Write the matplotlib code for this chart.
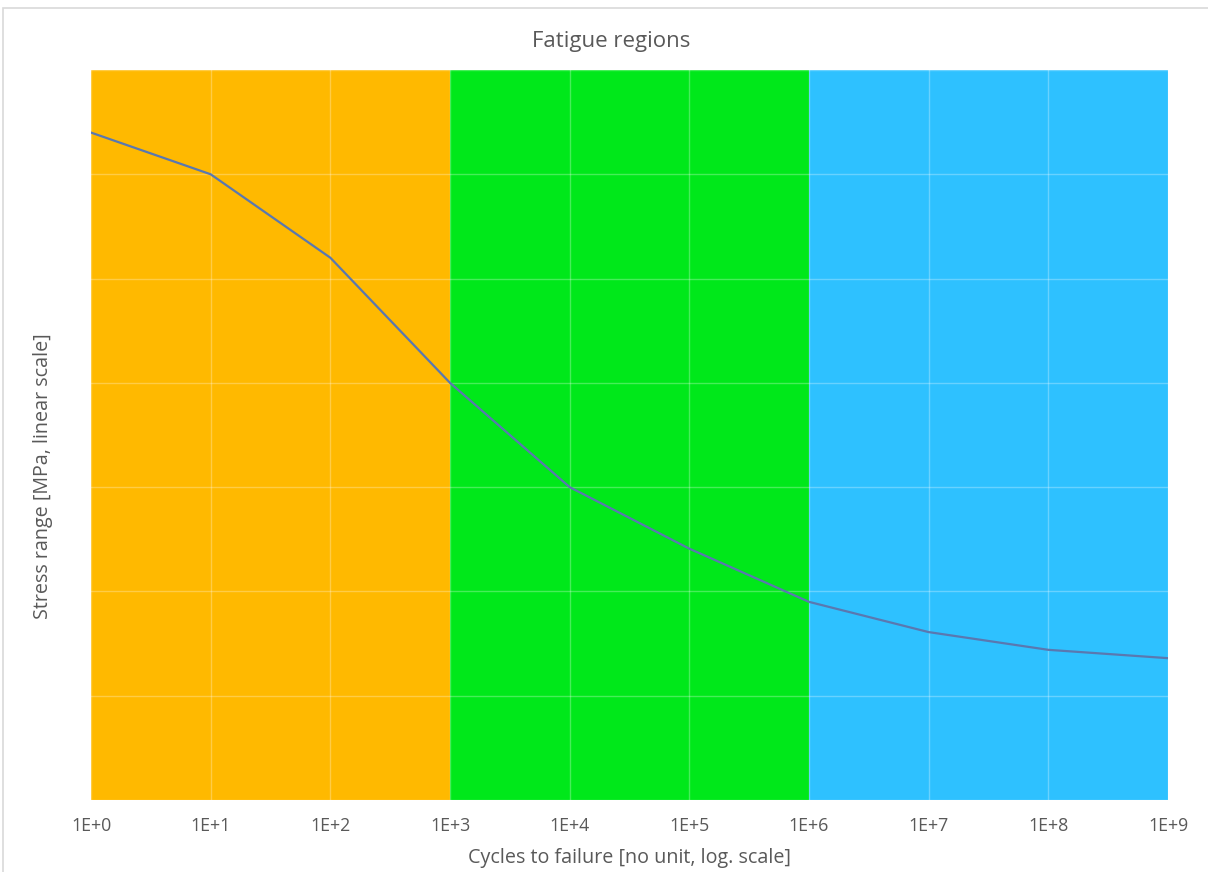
import matplotlib
matplotlib.use("Agg")
import matplotlib.pyplot as plt
from matplotlib.patches import Rectangle
from matplotlib.ticker import FixedLocator

# Data
region_edges = [1e0, 1e3, 1e6, 1e9]
region_colors = ["#FFB900", "#00E81A", "#2EC1FF"]
cycles = [1e0, 1e1, 1e2, 1e3, 1e4, 1e5, 1e6, 1e7, 1e8, 1e9]
stress = [6.40, 6.00, 5.20, 4.00, 3.00, 2.41, 1.90, 1.61, 1.44, 1.36]
x_ticks = [10.0 ** k for k in range(10)]
x_tick_labels = ["1E+%d" % k for k in range(10)]
y_max = 7

plt.rcParams['font.family'] = ['Open Sans', 'DejaVu Sans']
text_color = "#595959"

W, H = 1208, 872
fig = plt.figure(figsize=(W/100, H/100), dpi=100)
ax = fig.add_axes([91/W, 1 - 800/H, (1168-91)/W, (800-70)/H])

for i, c in enumerate(region_colors):
    ax.axvspan(region_edges[i], region_edges[i+1], color=c, lw=0, zorder=0.1)

ax.plot(cycles, stress, color="#5A78B0", lw=1.6, zorder=2, solid_joinstyle='round')

ax.set_xscale('log')
ax.set_xlim(region_edges[0], region_edges[-1])
ax.set_ylim(0, y_max)
ax.set_xticks(x_ticks)
ax.set_xticklabels(x_tick_labels)
ax.xaxis.set_minor_locator(FixedLocator([]))
ax.set_yticks(range(0, y_max + 1))
ax.set_yticklabels([])
ax.tick_params(axis='x', length=0, colors=text_color, labelsize=12.8, pad=12)
ax.tick_params(axis='y', length=0, pad=0)
ax.set_axisbelow(True)
ax.grid(True, color="white", alpha=0.28, lw=1.0)
for s in ax.spines.values():
    s.set_visible(False)

fig.text(611/W, 1 - 42/H, "Fatigue regions", color=text_color, fontsize=16,
         ha='center', va='center')
ax.set_xlabel("Cycles to failure [no unit, log. scale]", color=text_color, fontsize=14.2, va='center')
ax.xaxis.set_label_coords(0.5, (800 - 858) / 730)
ax.set_ylabel("Stress range [MPa, linear scale]", color=text_color, fontsize=14.2, va='center')
ax.yaxis.set_label_coords((43 - 91) / 1077, (800 - 476) / 730)

fig.patches.append(Rectangle((3/W, -0.02), 1.05, 1 - 8/H + 0.02, transform=fig.transFigure,
                             fill=False, edgecolor="#D9D9D9", lw=1.2, zorder=0))

fig.savefig("out.png", dpi=100)
